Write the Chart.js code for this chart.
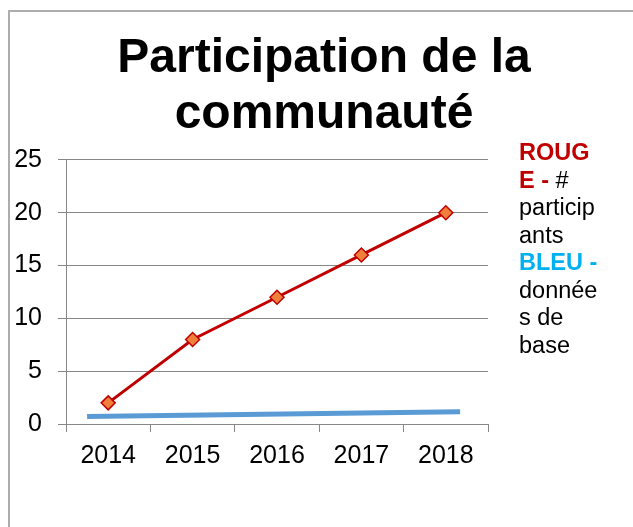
<!DOCTYPE html>
<html>
<head>
<meta charset="utf-8">
<script src="https://cdn.jsdelivr.net/npm/chart.js@4/dist/chart.umd.min.js"></script>
<style>
  html, body { margin: 0; padding: 0; background: #ffffff; overflow: hidden; }
  #wrap { position: relative; width: 633px; height: 527px; overflow: hidden; background: #fff; }
  #hline { position: absolute; left: 8px; top: 10px; width: 625px; height: 2px; background: #adadad; }
  #vline { position: absolute; left: 8px; top: 10px; width: 2px; height: 517px; background: #adadad; }
  #c { position: absolute; left: 0; top: 0; }
  #legend { position: absolute; left: 519px; top: 139px; font-family: "Liberation Sans", Arial, sans-serif; font-size: 23.5px; line-height: 27.5px; color: #000; white-space: nowrap; }
  .r { color: #c00000; font-weight: bold; }
  .b { color: #00b0f0; font-weight: bold; }
</style>
</head>
<body>
<div id="wrap">
  <div id="hline"></div>
  <div id="vline"></div>
  <canvas id="c" width="633" height="527"></canvas>
  <div id="legend"><span class="r">ROUG</span><br><span class="r">E -</span> #<br>particip<br>ants<br><span class="b">BLEU -</span><br>donnée<br>s de<br>base</div>
</div>
<script>
const titleLines = ["Participation de la", "communauté"];
const years = ["2014", "2015", "2016", "2017", "2018"];
const participants = [2, 8, 12, 16, 20];
const baselineX = [-0.25, 4.17];
const baselineY = [0.7, 1.17];
const yTicks = [0, 5, 10, 15, 20, 25];

const baselinePoints = baselineX.map((x, i) => ({ x: x, y: baselineY[i] }));

new Chart(document.getElementById('c'), {
  type: 'line',
  data: {
    labels: years,
    datasets: [
      {
        label: 'ROUGE - # participants',
        data: participants,
        xAxisID: 'x',
        yAxisID: 'y',
        borderColor: '#c00000',
        borderWidth: 3,
        pointStyle: 'rectRot',
        pointRadius: 7,
        pointBackgroundColor: '#f07f3c',
        pointBorderColor: '#c00000',
        pointBorderWidth: 1.5,
        tension: 0,
        order: 1
      },
      {
        label: 'BLEU - données de base',
        data: baselinePoints,
        xAxisID: 'x2',
        yAxisID: 'y',
        borderColor: '#5b9bd5',
        borderWidth: 5,
        pointRadius: 0,
        tension: 0,
        order: 2
      }
    ]
  },
  options: {
    responsive: false,
    animation: false,
    layout: { padding: { left: 15, right: 0, top: 0, bottom: 43 } },
    plugins: {
      legend: { display: false },
      tooltip: { enabled: false },
      title: {
        display: true,
        text: titleLines,
        color: '#000',
        font: { family: '"Liberation Sans", Arial, sans-serif', size: 48, weight: 'bold', lineHeight: 1.18 },
        padding: { top: 30, bottom: 16.6 }
      }
    },
    scales: {
      x: {
        type: 'category',
        offset: true,
        grid: { offset: true, drawOnChartArea: false, drawTicks: true, tickLength: 8, color: '#878787', lineWidth: 1 },
        border: { color: '#878787', width: 1 },
        ticks: { color: '#000', padding: 9, font: { family: '"Liberation Sans", Arial, sans-serif', size: 25 }, maxRotation: 0 },
        afterFit: (s) => { s.height = 60; }
      },
      x2: {
        type: 'linear',
        display: false,
        min: -0.5,
        max: 4.5
      },
      y: {
        position: 'left',
        min: 0,
        max: 25,
        afterBuildTicks: (s) => { s.ticks = yTicks.map(v => ({ value: v })); },
        grid: { color: '#878787', lineWidth: 1, tickLength: 8 },
        border: { color: '#878787', width: 1 },
        ticks: { color: '#000', padding: 16, font: { family: '"Liberation Sans", Arial, sans-serif', size: 25 } },
        afterFit: (s) => { s.width = 51; }
      },
      ySpace: {
        position: 'right',
        display: true,
        min: 0,
        max: 25,
        grid: { display: false, drawOnChartArea: false, drawTicks: false },
        border: { display: false },
        ticks: { display: false },
        afterFit: (s) => { s.width = 145; }
      }
    }
  }
});
</script>
</body>
</html>
